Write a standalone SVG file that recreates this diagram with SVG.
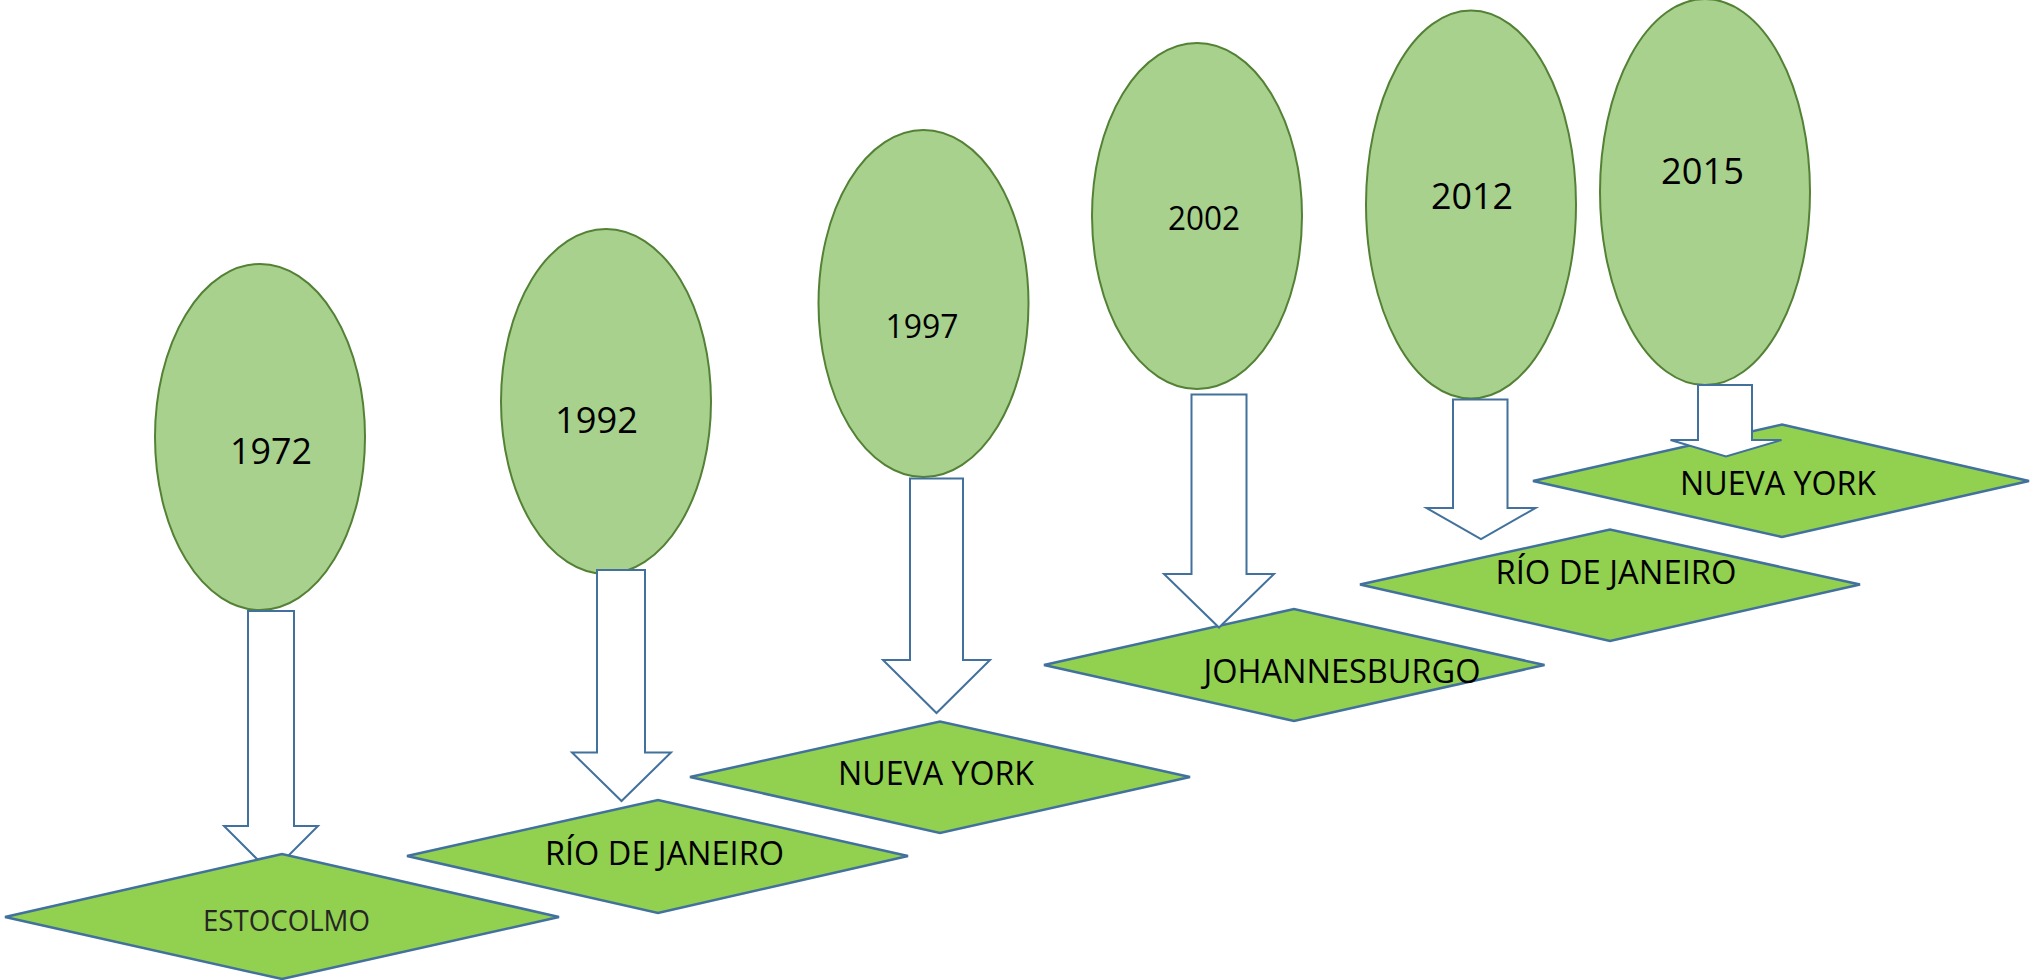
<svg xmlns="http://www.w3.org/2000/svg" width="2031" height="980" viewBox="0 0 2031 980">
<style>
.oval{fill:#a9d18e;stroke:#538135;stroke-width:2}
.dia{fill:#92d050;stroke:#41719c;stroke-width:2.5}
.arr{fill:#ffffff;stroke:#41719c;stroke-width:2}
text{font-family:"Open Sans","Liberation Sans",sans-serif;text-anchor:middle;fill:#000}
.yr{font-size:37px}
.city{font-size:32px}
</style>
<rect width="2031" height="980" fill="#ffffff"/>
<g id="year-1972"><ellipse class="oval" cx="260" cy="437" rx="105" ry="173"/><text class="yr" x="271" y="464" textLength="82" lengthAdjust="spacingAndGlyphs">1972</text></g>
<g id="year-1992"><ellipse class="oval" cx="606" cy="401.5" rx="105" ry="172.5"/><text class="yr" x="596.5" y="433" textLength="83" lengthAdjust="spacingAndGlyphs">1992</text></g>
<g id="year-1997"><ellipse class="oval" cx="923.5" cy="303.5" rx="105" ry="173.5"/><text class="yr" style="font-size:32px" x="922" y="338" textLength="73" lengthAdjust="spacingAndGlyphs">1997</text></g>
<g id="year-2002"><ellipse class="oval" cx="1197" cy="216" rx="105" ry="173"/><text class="yr" style="font-size:33px" x="1204" y="230" textLength="72" lengthAdjust="spacingAndGlyphs">2002</text></g>
<g id="year-2012"><ellipse class="oval" cx="1471" cy="204.5" rx="105" ry="194"/><text class="yr" style="font-size:36px" x="1472" y="209" textLength="82" lengthAdjust="spacingAndGlyphs">2012</text></g>
<g id="year-2015"><ellipse class="oval" cx="1705" cy="192" rx="105" ry="193"/><text class="yr" style="font-size:36px" x="1702.5" y="184" textLength="83" lengthAdjust="spacingAndGlyphs">2015</text></g>
<g id="city-rio-1992"><polygon class="dia" points="407,856 658,800 908,856 658,913"/><text class="city" x="664.5" y="865" textLength="239" lengthAdjust="spacingAndGlyphs">RÍO DE JANEIRO</text></g>
<g id="city-nuevayork-1997"><polygon class="dia" points="690,777 940,721.5 1190,777 940,833"/><text class="city" x="936" y="784.5" textLength="196" lengthAdjust="spacingAndGlyphs">NUEVA YORK</text></g>
<g id="city-johannesburgo"><polygon class="dia" points="1044,665 1294,609 1544.5,665 1294,721"/><text class="city" x="1342" y="683" textLength="277" lengthAdjust="spacingAndGlyphs">JOHANNESBURGO</text></g>
<g id="city-rio-2012"><polygon class="dia" points="1360,584.5 1610,529.5 1860,584.5 1610,641"/><text class="city" x="1616" y="583.5" textLength="241" lengthAdjust="spacingAndGlyphs">RÍO DE JANEIRO</text></g>
<g id="city-nuevayork-2015"><polygon class="dia" points="1533,481 1782,424.5 2029,481 1782,537"/><text class="city" x="1778" y="495" textLength="196" lengthAdjust="spacingAndGlyphs">NUEVA YORK</text></g>
<g id="connectors">
<polygon class="arr" points="248,611 294,611 294,826 318,826 271,873 224,826 248,826"/>
<polygon class="arr" points="597,570 645,570 645,752.5 671,752.5 621.5,801 572,752.5 597,752.5"/>
<polygon class="arr" points="910,478.5 963,478.5 963,660 990,660 936.5,713 883,660 910,660"/>
<polygon class="arr" points="1191.5,394.5 1246.5,394.5 1246.5,574 1274,574 1219,627.5 1164,574 1191.5,574"/>
<polygon class="arr" points="1453,399.5 1507.5,399.5 1507.5,508 1535.5,508 1481,539 1426.5,508 1453,508"/>
<polygon class="arr" points="1698,385 1752,385 1752,440 1781.5,440 1726,456.5 1670.5,440 1698,440"/>
</g>
<g id="city-estocolmo"><polygon class="dia" points="5,917 282,854 559,917 282,979"/><text class="city" style="font-size:29px;fill:#262626" x="286.5" y="931" textLength="167" lengthAdjust="spacingAndGlyphs">ESTOCOLMO</text></g>
</svg>
